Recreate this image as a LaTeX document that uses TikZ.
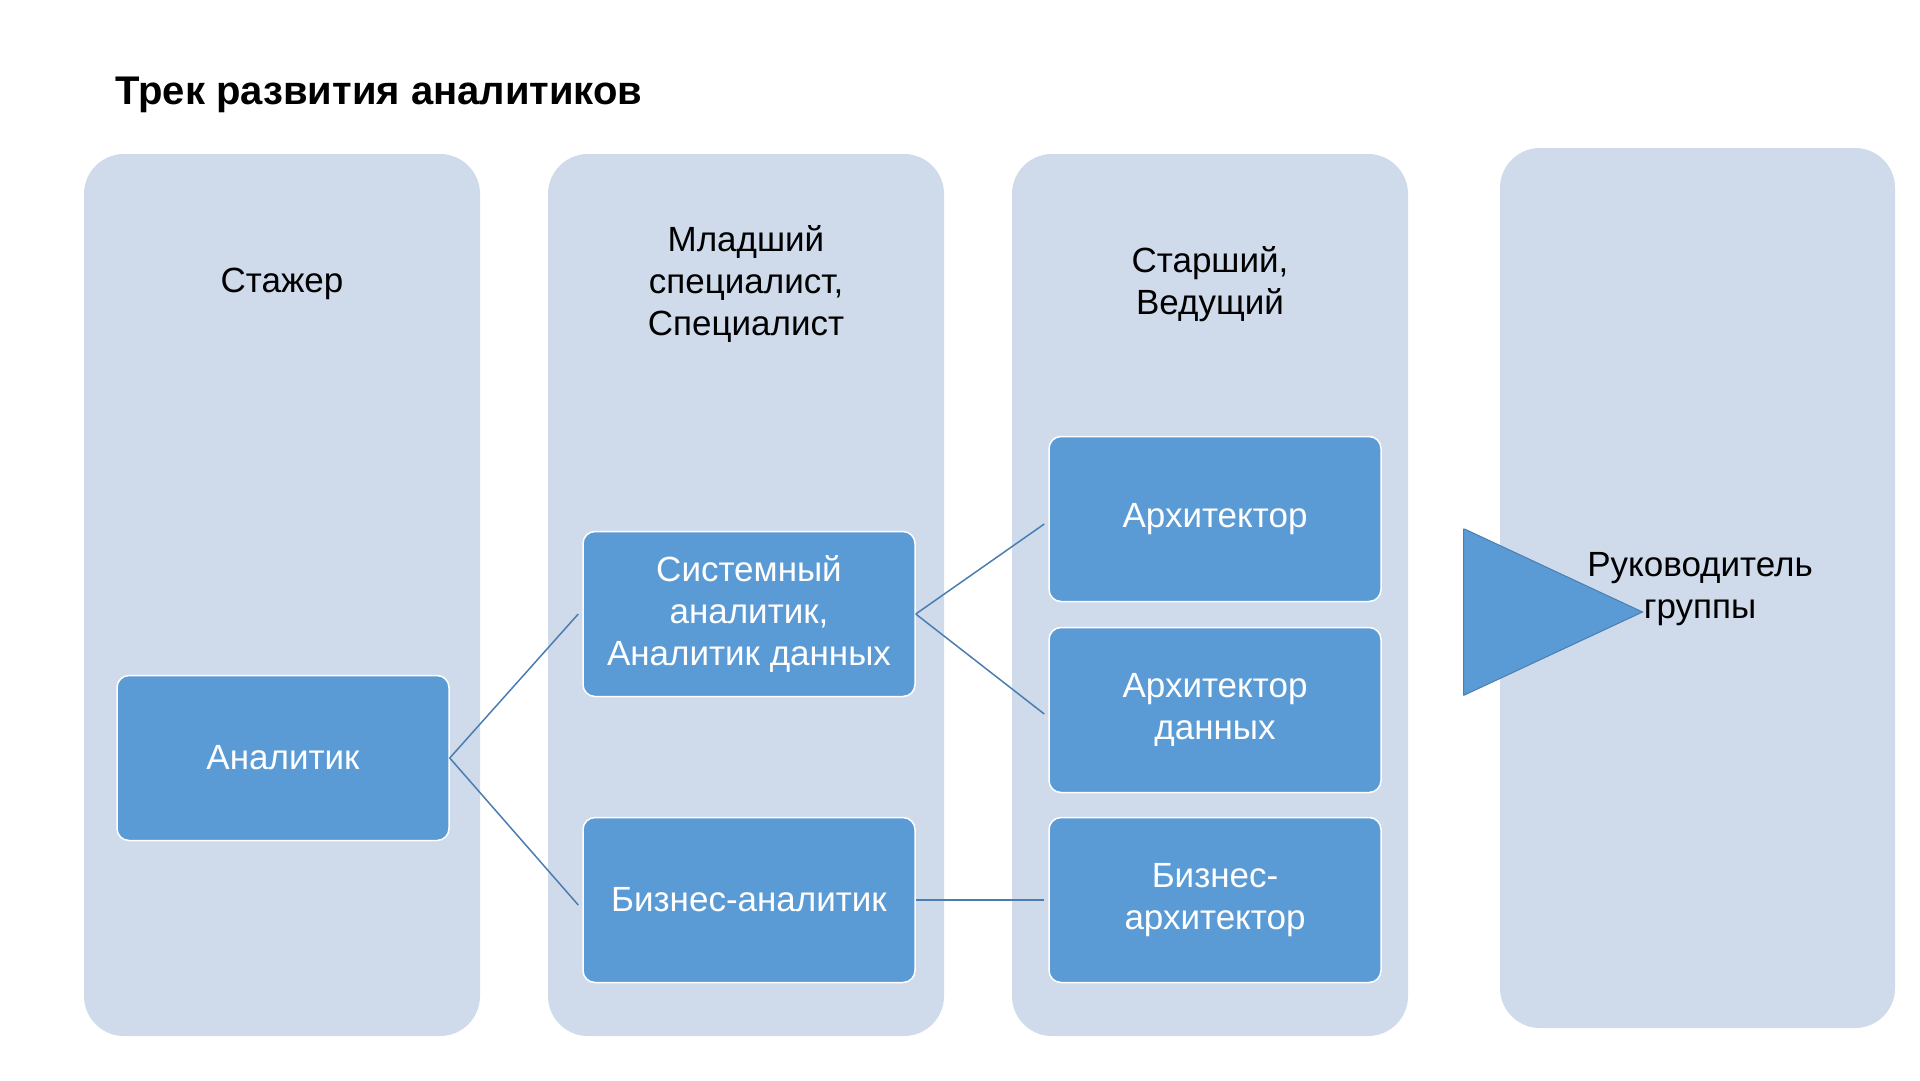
\documentclass[tikz,border=0pt]{standalone}
\usepackage{fontspec}
\setmainfont{Liberation Sans}
\usetikzlibrary{positioning,shapes.arrows}
\definecolor{panelfill}{HTML}{CFDAEB}
\definecolor{boxfill}{HTML}{5B9BD5}
\definecolor{linkcol}{HTML}{4A7EB0}
\tikzset{
  every picture/.style = {
    x = 1pt, y = -1pt,
  }
  ,
  panel/.style = {
    fill = panelfill,
    rounded corners = 40pt
  }
  , % headers of panels
  head/.style = {
    align = center,
    font = \fontsize{35}{42}\selectfont
  }
  , % role boxes
  role/.style = {
    rectangle,
    rounded corners = 12pt,
    fill = boxfill,
    draw = white,
    line width = 1.5pt,
    text = white,
    align = center,
    font = \fontsize{35}{42}\selectfont,
    minimum width = 332pt,
    minimum height = 165pt,
    inner sep = 2pt
  }
  ,
  link/.style = {
    draw = linkcol,
    line width = 1.5pt
  }
}
\begin{document}
\begin{tikzpicture}
  \useasboundingbox (0,0) rectangle (1920,1080);
  \fill[white] (0,0) rectangle (1920,1080);

  \node[anchor = base west, font = \bfseries\fontsize{40}{48}\selectfont] (title) at (112,104) {Трек развития аналитиков};

  \fill[panel] (84,154) rectangle (480,1036);
  \fill[panel] (548,154) rectangle (944,1036);
  \fill[panel] (1012,154) rectangle (1408,1036);
  \fill[panel] (1500,148) rectangle (1895,1028);

  \node[head] (intern) at (282,284) {Стажер};
  \node[head] (junior) at (746,284) {Младший\\специалист,\\Специалист};
  \node[head] (senior) at (1210,284) {Старший,\\Ведущий};
  \node[head] (lead) at (1700,589) {Руководитель\\группы};

  \node[role] (an) at (283,758) {Аналитик};
  \node[role] (sys) at (749,614) {Системный\\аналитик,\\Аналитик данных};
  \node[role] (ba) at (749,900) {Бизнес-аналитик};
  \node[role] (arch) at (1215,519) {Архитектор};
  \node[role] (darch) at (1215,710) {Архитектор\\данных};
  \node[role] (barch) at (1215,900) {Бизнес-\\архитектор};

  \draw[link] (an.east) -- ([xshift=-4pt]sys.west);
  \draw[link] (an.east) -- ([xshift=-4pt,yshift=-5pt]ba.west);
  \draw[link] (sys.east) -- ([xshift=-4pt,yshift=-5pt]arch.west);
  \draw[link] (sys.east) -- ([xshift=-4pt,yshift=-4pt]darch.west);
  \draw[link] (ba.east) -- ([xshift=-4pt]barch.west);

  \node[single arrow, fill = boxfill, draw = linkcol, line width = 1pt,
        minimum width = 166pt, single arrow head extend = 0pt,
        minimum height = 67pt, inner sep = 0pt, single arrow tip angle = 50,
        shape border rotate = 0] (step) at (1464,612) {};
\end{tikzpicture}
\end{document}
